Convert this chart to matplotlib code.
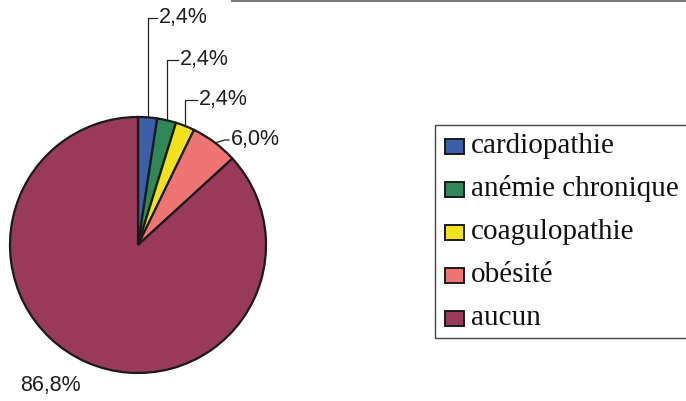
import matplotlib.pyplot as plt
from matplotlib.patches import Rectangle
import numpy as np

categories = ['cardiopathie', 'anémie chronique', 'coagulopathie', 'obésité', 'aucun']
values = [2.4, 2.4, 2.4, 6.0, 86.8]
labels = ['2,4%', '2,4%', '2,4%', '6,0%', '86,8%']
colors = ['#3b5fa8', '#2f8757', '#f2e21e', '#ef7474', '#9a3a5b']

W, H = 686, 401
fig = plt.figure(figsize=(6.86, 4.01), dpi=100)
ax = fig.add_axes([0, 0, 1, 1])

cx, cy, r = 138, H - 245, 128
wedges, _ = ax.pie(values, colors=colors, startangle=90, counterclock=False,
                   center=(cx, cy), radius=r, frame=True,
                   wedgeprops=dict(edgecolor='#1a1a1a', linewidth=1.6))
ax.set_xlim(0, W)
ax.set_ylim(0, H)
ax.set_aspect('equal')
ax.axis('off')

# label positions (pixel coords, y from top)
lab_pos = [(159, 18), (180, 60), (199, 100), (231, 140), (20, 385)]
for w, lab, (lx, ly) in zip(wedges, labels, lab_pos):
    mid = np.deg2rad((w.theta1 + w.theta2) / 2)
    px, py = cx + r * np.cos(mid), cy + r * np.sin(mid)
    ty = H - ly
    if lab == '86,8%':
        ax.text(lx, ty, lab, fontsize=15.5, family='Liberation Sans', va='center', ha='left', color='#1e1e1e')
        continue
    if lab == '6,0%':
        ax.plot([px + 2, lx - 6, lx - 2], [py, ty, ty], color='#222222', lw=0.9)
    else:
        ax.plot([px, px, lx - 2], [py, ty, ty], color='#222222', lw=0.9)
    ax.text(lx, ty, lab, fontsize=15.5, family='Liberation Sans', va='center', ha='left', color='#1e1e1e')

# legend drawn by hand
ax.add_patch(Rectangle((435, H - 338), 260, 213, facecolor='white', edgecolor='#444444', lw=1.0))
for i, (cat, col) in enumerate(zip(categories, colors)):
    yy = H - (146 + i * 43)
    ax.add_patch(Rectangle((445, yy - 7.5), 19, 15, facecolor=col, edgecolor='#1a1a1a', lw=1.4))
    ax.text(471, yy, cat, fontsize=21, family='Liberation Serif', va='center', ha='left', color='#111111')

# faint line at top edge from scan
ax.plot([232, W], [H - 1, H - 1], color='#777777', lw=1.5)

fig.savefig('out.png', dpi=100)
